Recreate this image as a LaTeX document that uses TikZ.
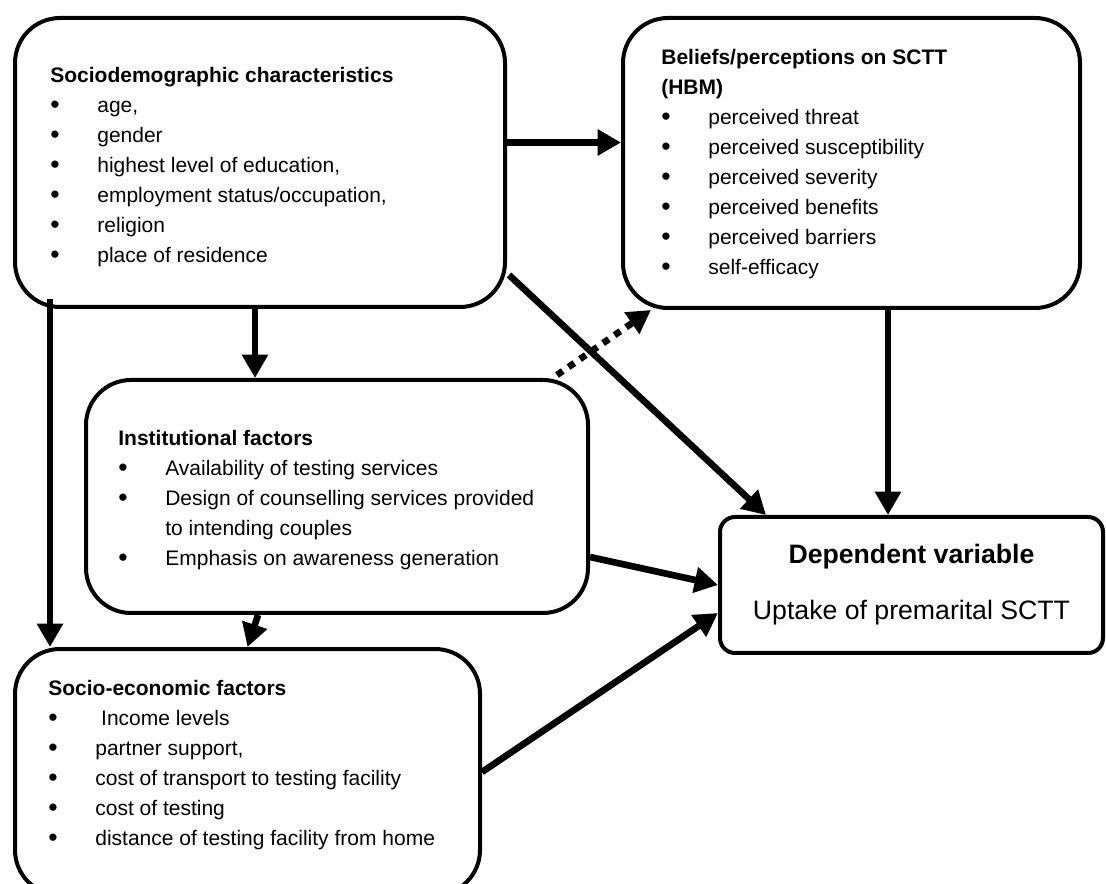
\documentclass[tikz,border=0pt]{standalone}
\usepackage{fontspec}
\setmainfont{Liberation Sans}
\usetikzlibrary{arrows.meta}
\usetikzlibrary{positioning}
\newcommand{\blt}[1]{\makebox[28.2pt][l]{\raisebox{-0.8pt}{\fontsize{16}{18}\selectfont\textbullet}}#1}
\tikzset{
      factor/.style={draw=black, line width=2.4pt, rounded corners=27pt, inner sep=0pt},
      outcome/.style={draw=black, line width=2.4pt, rounded corners=9pt, align=center,
            font=\fontsize{16}{33.6}\selectfont},
      listtext/.style={inner sep=0pt, align=left, font=\fontsize{12.6}{18}\selectfont},
      link/.style={draw=black, line width=4pt, -{Triangle[length=14pt,width=15pt]}},
      maybelink/.style={link, dash pattern=on 4.2pt off 4.2pt},
}

\begin{document}
\begin{tikzpicture}[x=0.6pt, y=-0.6pt]
        \clip (0,0) rectangle (1106,884);

        % Draw the boxes
        \node[factor, minimum width=294pt, minimum height=173.4pt] (sd) at (260,162.5) {};
        \node[factor, minimum width=274.2pt, minimum height=174pt] (hbm) at (851.5,163) {};
        \node[factor, minimum width=301.2pt, minimum height=139.8pt] (inst) at (337,496.5) {};
        \node[factor, minimum width=279pt, minimum height=147.6pt] (secon) at (247.5,772) {};
        \node[outcome, minimum width=229.8pt, minimum height=81.6pt] (dep) at (911.5,585)
              {\textbf{Dependent variable}\\Uptake of premarital SCTT};

        % Fill in the lists
        \node[listtext, below right=30.6pt and 22.2pt of sd.north west] (sdlist)
              {\textbf{Sociodemographic characteristics}\\
               \blt{age,}\\ \blt{gender}\\ \blt{highest level of education,}\\
               \blt{employment status/occupation,}\\ \blt{religion}\\ \blt{place of residence}};
        \node[listtext, below right=19.8pt and 24pt of hbm.north west] (hbmlist)
              {\textbf{Beliefs/perceptions on SCTT}\\ \textbf{(HBM)}\\
               \blt{perceived threat}\\ \blt{perceived susceptibility}\\ \blt{perceived severity}\\
               \blt{perceived benefits}\\ \blt{perceived barriers}\\ \blt{self-efficacy}};
        \node[listtext, below right=31.2pt and 20.4pt of inst.north west] (instlist)
              {\textbf{Institutional factors}\\
               \blt{Availability of testing services}\\
               \blt{Design of counselling services provided}\\ \hspace*{28.2pt}to intending couples\\
               \blt{Emphasis on awareness generation}};
        \node[listtext, below right=19.8pt and 21pt of secon.north west] (seconlist)
              {\textbf{Socio-economic factors}\\
               \blt{\ Income levels}\\ \blt{partner support,}\\
               \blt{cost of transport to testing facility}\\ \blt{cost of testing}\\
               \blt{distance of testing facility from home}};

        % Draw the links
        \coordinate (sdleft) at ([xshift=22.2pt, yshift=6pt]sd.south west);
        \coordinate (sdmid) at ([xshift=-3pt]sd.south);
        \coordinate (hbmmid) at ([xshift=21.9pt]hbm.south);

        \draw[link] ([yshift=12pt]sd.east) -- ([yshift=12pt]sd.east -| hbm.west);
        \draw[link] (sdmid) -- (sdmid |- inst.north);
        \draw[link] (sdleft) -- (sdleft |- secon.north);
        \draw[link] ([xshift=1.2pt, yshift=20.4pt]sd.south east) -- ([xshift=28.8pt]dep.north west);
        \draw[link] (hbmmid) -- (hbmmid |- dep.north);
        \draw[link] ([yshift=-36.3pt]inst.east) -- (dep.west);
        \draw[link] (secon.east) -- ([yshift=-16.8pt]dep.west);
        \draw[link] ([xshift=-47.4pt]inst.south) -- (secon.north);
        \draw[maybelink] ([xshift=-19.8pt, yshift=1.8pt]inst.north east) -- ([xshift=18pt]hbm.south west);

\end{tikzpicture}
\end{document}
